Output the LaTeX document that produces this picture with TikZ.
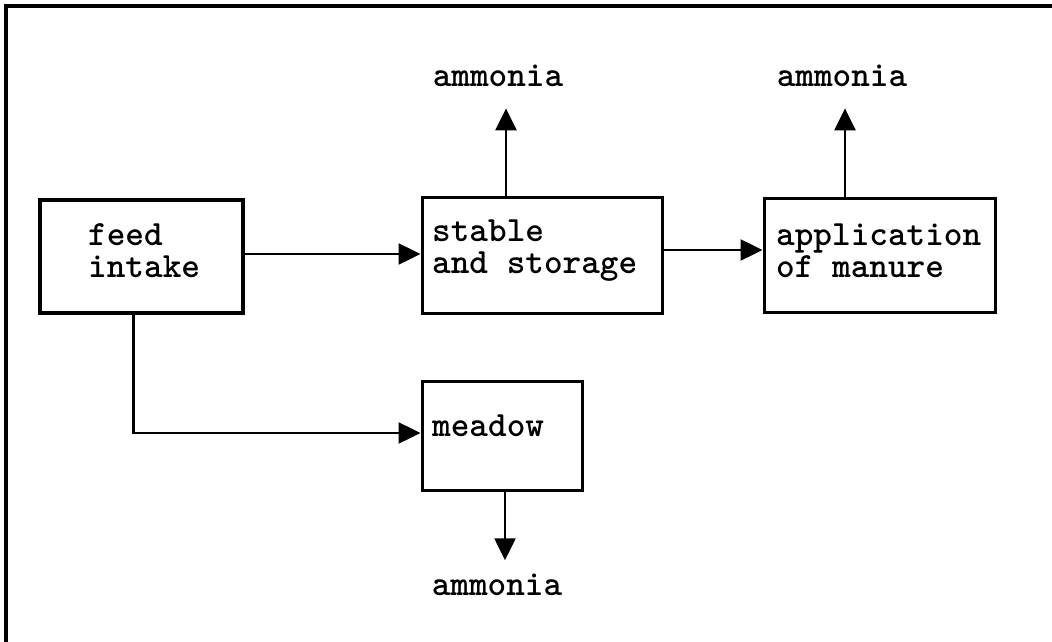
\documentclass[tikz,border=0pt]{standalone}
\usepackage{fontspec}
\usetikzlibrary{arrows.meta}
\begin{document}
\begin{tikzpicture}[x=1pt,y=-1pt,
  box/.style={draw, line width=3pt, inner sep=0pt, minimum width=#1},
  lbl/.style={inner sep=0pt, align=left, font=\fontsize{35.5}{32}\ttfamily\bfseries\selectfont},
  flow/.style={line width=2.5pt, -{Triangle[length=22pt,width=21pt]}},
  frame/.style={line width=3.5pt}]
\useasboundingbox (0,0) rectangle (1052,642);
% frame (left and top edges)
\draw[frame] (6,642) -- (6,6) -- (1052,6);
% boxes
\node[box=203pt, minimum height=113pt, line width=3.6pt] (feed) at (141.5,256.5) {};
\node[box=240pt, minimum height=116pt] (stable) at (542,255) {};
\node[box=231pt, minimum height=114pt] (app) at (879.5,255) {};
\node[box=160pt, minimum height=109pt] (meadow) at (502,435.5) {};
% box texts
\node[lbl, anchor=west] at (88,251) {feed\\intake};
\node[lbl, anchor=west] at (432,251) {stable\\and storage};
\node[lbl, anchor=west] at (776,251) {application\\of manure};
\node[lbl, anchor=west] at (432,426) {meadow};
% ammonia labels
\node[lbl, anchor=base] (am1) at (498,86) {ammonia};
\node[lbl, anchor=base] (am2) at (842,86) {ammonia};
\node[lbl, anchor=base] (am3) at (497,595) {ammonia};
% connectors
\draw[flow] (feed.east |- 0,254) -- (stable.west |- 0,254);
\draw[flow] (stable.east |- 0,250) -- (app.west |- 0,250);
\draw[flow] ([xshift=-8pt]feed.south) |- (meadow.west |- 0,433);
\draw[flow, shorten >=22pt] ([xshift=-36pt]stable.north) -- ([xshift=-36pt]stable.north |- am1.south);
\draw[flow, shorten >=22pt] ([xshift=-34.5pt]app.north) -- ([xshift=-34.5pt]app.north |- am2.south);
\draw[flow, shorten >=13pt] ([xshift=3pt]meadow.south) -- ([xshift=3pt]meadow.south |- am3.north);
\end{tikzpicture}
\end{document}
